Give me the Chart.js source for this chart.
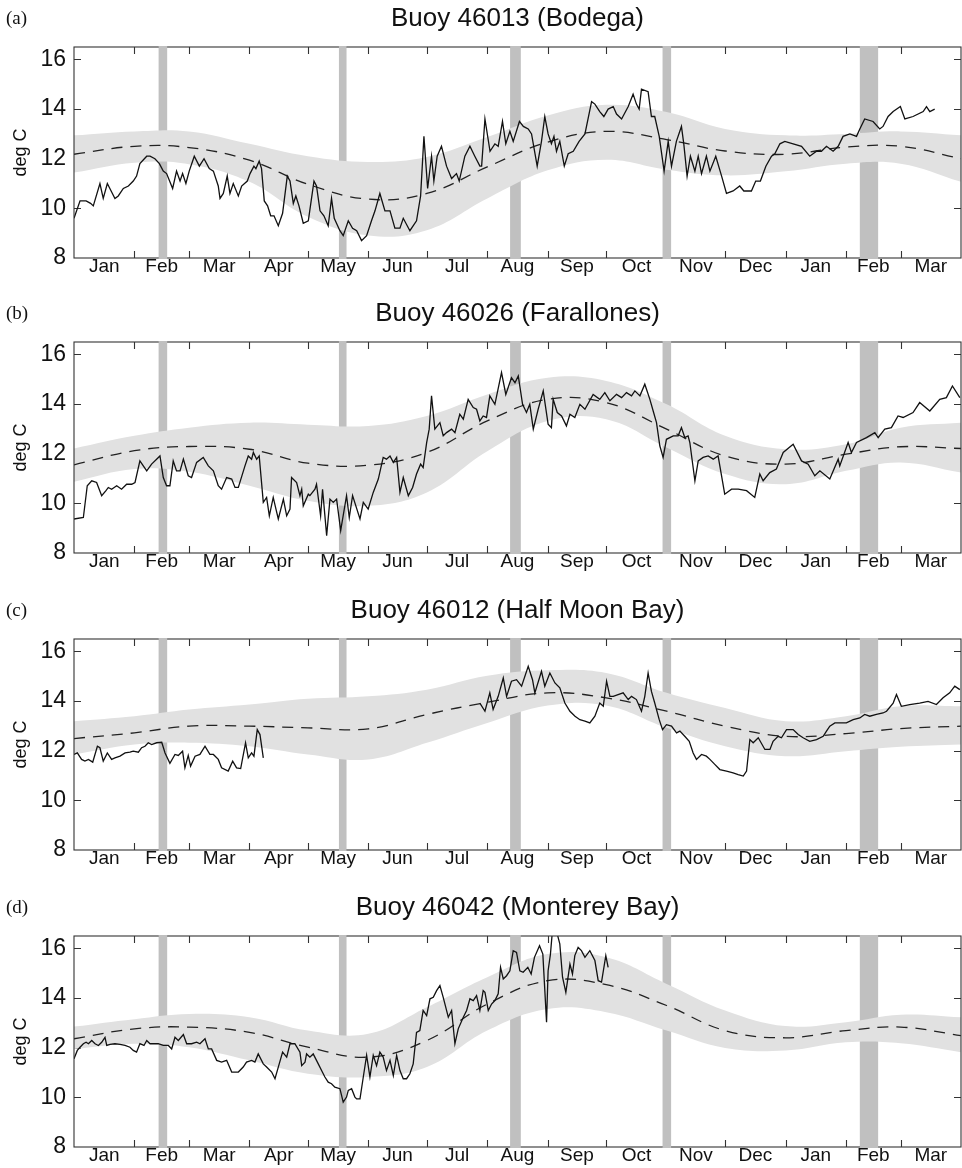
<!DOCTYPE html>
<html>
<head>
<meta charset="utf-8">
<script src="https://cdn.jsdelivr.net/npm/chart.js@4.4.0/dist/chart.umd.min.js"></script>
<style>
  body { margin: 0; background: #fff; overflow: hidden; }
  .panel { position: absolute; left: 0; width: 962px; height: 296px; }
</style>
</head>
<body>
<div class="panel" style="top:0"><canvas id="cA" width="962" height="296"></canvas></div>
<div class="panel" style="top:295px"><canvas id="cB" width="962" height="296"></canvas></div>
<div class="panel" style="top:592px"><canvas id="cC" width="962" height="296"></canvas></div>
<div class="panel" style="top:889px"><canvas id="cD" width="962" height="296"></canvas></div>
<script>
// x axis = days since Jan 1 (first year), through end of March of the next year
const monthLabels = ['Jan','Feb','Mar','Apr','May','Jun','Jul','Aug','Sep','Oct','Nov','Dec','Jan','Feb','Mar'];
const monthStarts = [0,31,59,90,120,151,181,212,243,273,304,334,365,396,424,455];
const yTicks = [10,12,14,16];
// shaded vertical bars (start day, end day)
const grayBars = [[43.4,47.8],[135.9,139.8],[223.7,229.2],[301.9,306.3],[403.1,412.5]];

// climatology (dashed) and its band, sampled at the month starts
const bandDays = [0,31,59,90,120,151,181,212,243,273,304,334,365,396,424,455];

const meanA  = [12.18,12.5,12.45,11.94,10.97,10.37,10.6,11.67,12.67,13.1,12.77,12.31,12.18,12.47,12.5,12.0];
const upperA = [12.94,13.1,13.1,12.6,12.1,11.87,12.07,12.87,13.74,14.17,13.88,13.2,12.94,13.0,13.1,12.94];
const lowerA = [11.44,11.84,11.78,11.07,9.66,8.91,9.12,10.4,11.53,11.96,11.56,11.33,11.49,11.8,11.8,11.07];

const meanB  = [11.55,12.12,12.29,12.18,11.62,11.54,12.05,13.32,14.19,14.06,12.99,11.91,11.58,11.98,12.28,12.21];
const upperB = [12.21,12.72,13.05,13.25,13.17,13.12,13.52,14.39,15.06,14.93,13.99,12.72,12.18,12.38,13.05,13.25];
const lowerB = [10.87,11.38,11.27,10.71,10.1,9.9,10.44,12.1,13.32,13.39,12.25,11.18,10.77,11.31,11.65,11.24];

const meanC  = [12.49,12.72,12.99,12.99,12.92,12.88,13.46,13.95,14.33,14.13,13.59,12.99,12.58,12.69,12.89,12.99];
const upperC = [13.19,13.39,13.66,13.86,14.09,14.19,14.46,15.02,15.24,15.13,14.33,13.72,13.19,13.39,13.79,13.79];
const lowerC = [11.85,12.25,12.32,12.18,11.85,11.65,12.32,13.12,13.82,13.82,12.92,12.18,11.78,11.98,12.16,12.25];

const meanD  = [12.36,12.76,12.83,12.62,12.02,11.62,12.29,13.76,14.7,14.54,13.7,12.69,12.4,12.69,12.83,12.49];
const upperD = [12.85,13.15,13.36,13.23,12.69,12.56,13.63,14.84,15.77,15.64,14.57,13.5,12.87,13.03,13.33,13.23];
const lowerD = [11.95,12.16,12.02,11.49,10.95,10.82,11.22,12.69,13.56,13.43,12.69,11.99,11.89,12.22,12.18,11.82];

// observed buoy temperature [day, deg C]
const obsA = [[0,9.6],[3.1,10.3],[6.2,10.3],[8.5,10.2],[9.9,10.1],[13.3,11.0],[15,10.4],[17.1,11.0],[21,10.4],[22.7,10.5],[25.3,10.8],[27.9,10.9],[30.4,11.1],[32.1,11.3],[33.8,11.8],[37.3,12.1],[39,12.1],[41.5,12.0],[43.8,11.8],[45.8,11.5],[47.5,11.4],[50.6,10.8],[52.6,11.5],[54.4,11.1],[55.7,11.4],[57.4,11.0],[59.1,11.5],[61.7,12.1],[64.3,11.7],[66.7,12.0],[69.4,11.6],[71.5,11.5],[74,10.9],[74.9,10.4],[76.6,10.6],[78.6,11.3],[80,10.6],[81.7,11.0],[84.3,10.5],[86,10.9],[88.9,11.1],[90.3,11.4],[92.3,11.7],[93.3,11.6],[95,11.9],[96.2,11.6],[97.6,10.3],[99.3,10.1],[100.9,9.7],[102.6,9.7],[104.8,9.3],[107,9.8],[109.4,11.3],[110.8,11.1],[112.5,10.2],[113.8,10.5],[115.4,10.1],[117.6,9.4],[120.2,9.5],[123.1,11.1],[124.4,10.9],[126.2,9.9],[128.2,9.7],[130.4,9.3],[132.1,10.4],[133.5,9.6],[136.4,9.1],[138.1,8.9],[140.7,9.5],[142.9,9.2],[145,9.1],[147.5,8.7],[150.1,8.9],[152.6,9.5],[154.4,9.9],[156.9,10.6],[159.5,9.9],[162.1,9.9],[164.6,9.2],[167.2,9.2],[168.9,9.6],[172.3,9.1],[175.7,9.5],[177.8,10.5],[179.5,12.9],[181.4,10.8],[183.4,12.1],[184.6,11.1],[186.3,12.1],[188.5,12.5],[191.1,11.7],[193.7,11.2],[196.2,11.4],[197.6,11.1],[200.5,12.1],[203.1,12.5],[205.6,12.1],[208.2,11.7],
  [209.1,11.7],[210.8,13.6],[213.4,12.3],[215.9,12.6],[217.6,12.5],[219.8,13.5],[221.5,12.6],[223.6,13.1],[225.3,12.7],[228.5,13.5],[230.5,13.3],[233,13.2],[234.7,13.0],[237.6,11.7],[239.8,12.7],[241.5,13.7],[243.2,13.0],[244.9,12.6],[246.2,12.9],[247.5,12.3],[249.2,12.7],[251.5,11.7],[253.5,12.2],[256.1,12.3],[259.1,12.7],[262.1,13.0],[265.5,14.3],[267.2,14.2],[269.7,13.9],[271.8,13.7],[274,14.0],[276.6,14.1],[278.3,13.8],[280.9,13.6],[284.3,14.1],[286.8,14.6],[288.5,14.2],[289.9,14.0],[291.1,14.8],[294.5,14.7],[296.2,13.7],[297.9,13.7],[300.2,12.9],[302.7,11.5],[304.8,12.7],[306.5,11.7],[309,12.7],[311.6,13.3],[312.8,12.6],[314.5,11.3],[316.2,12.1],[318.5,11.5],[320.2,12.1],[321.9,11.4],[324.4,12.1],[326.2,11.5],[329.2,12.1],[332.2,11.3],[334.7,10.6],[338.1,10.7],[341.5,10.9],[343.6,10.7],[347.5,10.7],[349.7,11.1],[352.1,11.1],[354.9,11.7],[357.8,12.1],[359.5,12.2],[362.1,12.6],[364.6,12.7],[368.9,12.6],[373.2,12.5],[377.4,12.1],[380.9,12.3],[383.4,12.3],[386,12.5],[389.4,12.3],[392,12.5],[394.5,12.9],[398,13.0],[401.4,12.9],[403.1,13.2],[405.6,13.6],[409.9,13.5],[413.3,13.2],[415,13.3],[417.6,13.7],[420.2,13.9],[423.9,14.1],[426.2,13.6],[430.4,13.7],[435.6,13.9],[437.3,14.1],[439,13.9],[441.5,14.0]];

const obsB = [[0,9.37],[4.8,9.43],[6.8,10.71],[9.1,10.91],[11.6,10.84],[14.2,10.31],[16.4,10.51],[17.6,10.64],[19.3,10.57],[21.9,10.71],[24.4,10.57],[27,10.77],[29.6,10.77],[31.3,10.84],[33.8,11.71],[37.3,11.31],[39.8,11.58],[44.1,11.91],[45.8,11.04],[47.5,10.71],[49.2,10.71],[50.9,11.71],[52.6,11.31],[54.4,11.31],[56.1,11.78],[58.6,11.11],[60.3,11.04],[62.9,11.65],[66.3,11.85],[68.9,11.51],[71.5,11.31],[74,10.71],[75.7,10.57],[78.3,11.04],[80.9,10.98],[82.6,10.64],[84.3,10.64],[87.7,11.51],[89.4,11.91],[91.1,11.78],[92,12.05],[93.7,11.78],[95,11.91],[97.1,10.04],[98.8,10.24],[100.2,9.5],[102.2,10.24],[103.6,9.77],[104.8,9.37],[107.4,10.17],[109.1,9.5],[110.8,9.77],[111.6,11.04],[114.2,10.84],[115.9,10.31],[116.8,10.57],[117.6,9.9],[120.2,10.37],[121,10.31],[123.6,10.57],[124.4,10.77],[126.5,9.5],[127.5,10.57],[129.6,8.7],[131.3,10.17],[133,10.04],[134.7,10.17],[136.8,8.9],[139.8,10.31],[141.2,9.43],[142.9,10.31],[146.7,9.37],[148.4,10.04],[150.9,9.77],[153.5,10.44],[156.1,10.98],[158.6,11.85],[160.3,11.78],[162.1,11.91],[163.8,11.65],[165.5,11.85],[167.2,10.44],[168.9,11.04],[171.5,10.31],[173.7,10.64],[175.7,11.18],[177.8,11.58],[179.1,11.44],[180.9,12.45],[182.2,12.99],[183.4,14.33],[185.1,12.99],[187.7,13.25],[189.4,12.72],[191.1,12.85],[193.7,12.99],[195.4,12.85],[197.9,13.59],[199.7,13.39],[202.2,14.19],[204.8,13.86],[206.5,13.79],[208.2,13.32],
  [209.9,13.52],[211.6,13.46],[213.3,14.33],[215.9,13.99],[219.3,15.27],[221.5,14.39],[224.4,15.06],[226.2,14.86],[227.9,15.13],[230.1,13.99],[232.1,13.66],[233.8,13.99],[235.6,12.99],[238.1,13.79],[240.7,14.53],[243.2,13.19],[244.9,13.05],[245.8,14.19],[247.9,13.66],[250.1,13.52],[252.6,13.12],[254.4,13.59],[256.9,13.46],[259.5,13.99],[262.1,13.79],[266.3,14.39],[269.7,14.19],[272.3,14.46],[274.9,14.13],[278.3,14.39],[280.9,14.26],[283.4,14.46],[286,14.33],[287.7,14.53],[290.3,14.33],[292.8,14.8],[295.4,14.19],[297.1,13.72],[298.8,13.25],[300.5,12.32],[302.2,11.85],[303.9,12.58],[307.4,12.72],[309.9,12.72],[311.6,13.05],[313.3,12.65],[315,12.72],[315.9,12.45],[318.5,10.91],[320.2,11.71],[322.7,11.85],[325.3,11.91],[327.9,11.78],[330.4,11.91],[333.8,10.37],[337.3,10.57],[340.7,10.57],[345,10.51],[349.2,10.24],[351.8,11.18],[353.5,10.91],[356.9,11.24],[360.3,11.38],[363.8,12.05],[368.9,12.38],[373.2,11.71],[376.6,11.58],[380,11.11],[382.6,11.31],[387.7,10.98],[392,11.78],[392.8,11.51],[397.1,12.45],[398.8,12.05],[401.4,12.45],[406.5,12.65],[410.8,12.85],[412.5,12.65],[415.9,12.99],[419.3,13.05],[422.7,13.52],[425.3,13.46],[430.4,13.66],[433.8,14.06],[439,13.72],[444.1,14.19],[447.5,14.26],[450.6,14.73],[454.4,14.26]];

const obsC = [[0,11.85],[1.7,11.91],[3.9,11.65],[5.6,11.58],[7.4,11.65],[9.6,11.54],[12,12.18],[13.3,12.12],[15,11.58],[17.1,11.91],[19.3,11.65],[21,11.71],[23.6,11.78],[26.2,11.91],[28.7,11.94],[30.4,11.98],[33,11.94],[34.7,12.12],[36.4,12.18],[38.1,12.32],[39.8,12.25],[42.4,12.32],[45,12.34],[46.7,11.91],[49.2,11.49],[51.8,11.85],[53.5,11.81],[55.7,11.98],[56.9,11.31],[58.6,11.81],[59.8,11.38],[62.1,11.78],[64.6,11.85],[67.2,12.18],[69.7,11.85],[71.5,11.85],[74,11.65],[75.7,11.31],[79.1,11.18],[81.4,11.58],[83.4,11.31],[85.5,11.28],[88,12.32],[89.4,11.71],[91.1,11.91],[92.3,11.78],[94,12.85],[95.4,12.65],[97.1,11.71],
  [150,null],
  [208.2,13.92],[210.8,13.59],[213.3,14.33],[215,13.66],[217.6,14.19],[220.2,14.93],[221.9,14.19],[224.4,14.8],[227,14.86],[229.6,14.6],[233,15.4],[235.2,14.86],[236.4,14.33],[239.8,15.2],[241.5,14.6],[244.1,15.13],[246.7,14.73],[249.2,14.53],[251.8,13.92],[254.4,13.59],[257,13.39],[259.5,13.25],[262.1,13.19],[264.6,13.12],[267.2,13.39],[269.7,13.92],[271.5,13.79],[273.2,14.8],[274.9,14.19],[276.6,14.19],[279.1,14.26],[281.7,14.33],[284.3,14.06],[286,14.19],[288.5,14.06],[291.1,13.59],[292.8,14.19],[294.5,15.13],[296.2,14.39],[297.9,13.92],[300.2,13.25],[301.9,12.85],[303.9,13.05],[306.5,12.99],[309.1,12.72],[310.8,12.79],[313.3,12.58],[315.6,12.38],[317.6,11.91],[319.3,11.65],[321.9,11.85],[324.4,11.78],[326.2,11.65],[328.7,11.45],[331.3,11.24],[334.7,11.18],[338.1,11.11],[340.7,11.04],[343.3,10.98],[345,11.18],[346.7,12.45],[348.4,12.32],[351,12.52],[354.4,12.05],[357,12.05],[358.6,12.38],[361.2,12.58],[362.9,12.52],[365.5,12.85],[368.9,12.85],[371.5,12.65],[374,12.52],[377.4,12.38],[380.9,12.45],[384.3,12.58],[386,12.79],[387.7,12.99],[390.3,13.12],[392.8,13.12],[396.2,13.12],[399.7,13.25],[403.1,13.32],[405.6,13.46],[408.2,13.39],[411.6,13.46],[415,13.52],[416.8,13.59],[420.2,13.92],[421.9,14.26],[424.4,13.79],[428.7,13.86],[433.8,13.92],[438.1,13.99],[442.4,13.86],[445.8,14.13],[449.2,14.33],[451.8,14.6],[454.4,14.46]];

const obsD = [[0,11.55],[1.7,11.89],[3.1,12.02],[4.8,12.16],[6.2,12.22],[7.4,12.16],[9.1,12.29],[10.8,12.16],[12.5,12.09],[14.2,12.22],[15.9,12.42],[16.8,12.09],[18.5,12.13],[21,12.16],[23.6,12.13],[26.2,12.09],[28.7,12.02],[30.4,11.89],[32.1,11.82],[33.8,12.16],[35.9,12.09],[37.3,12.29],[39,12.16],[40.7,12.16],[43.2,12.16],[45.8,12.09],[48.4,12.09],[50.1,11.95],[51.8,12.42],[53.5,12.29],[56.1,12.53],[57.8,12.16],[60.3,12.16],[62.9,12.22],[64.6,12.16],[67.2,12.36],[68.9,11.95],[70.6,11.95],[73.2,11.49],[75.7,11.42],[78.3,11.49],[80.9,11.02],[84.3,11.02],[86.8,11.22],[88.5,11.42],[91.1,11.49],[92.8,11.42],[94.5,11.75],[97.1,11.35],[98.8,11.22],[101.4,11.02],[103.1,10.75],[104.8,11.22],[107,11.82],[109.1,11.62],[110.8,12.16],[113.3,12.16],[115.9,11.82],[116.8,11.28],[118.5,11.42],[119.3,11.75],[121,11.62],[122.7,11.75],[125.3,11.35],[127,11.08],[128.7,10.82],[130.4,10.61],[132.1,10.55],[133.8,10.41],[136.4,10.35],[138.1,9.81],[139.8,10.01],[140.7,10.28],[142.4,10.35],[144.1,10.01],[145,9.94],[146.7,9.94],[148.4,10.82],[150.1,11.69],[151.8,10.82],[153.5,11.69],[155.2,11.28],[156.9,11.82],[158.6,11.62],[160.3,11.08],[162.1,11.49],[163.8,10.88],[165.5,11.69],[167.2,11.08],[168.9,10.75],[170.6,10.75],[172.3,10.95],[174,11.35],[175.7,12.62],[177.4,12.69],[179.1,13.5],[180.9,13.29],[182.6,13.97],[184.3,14.03],[186,14.3],[187.7,14.5],[189.4,14.03],[192,13.23],[193.7,13.5],[195.4,12.16],[197.1,12.76],[199.7,13.23],[201.4,13.5],[203.1,13.97],[204.8,13.9],[206.5,14.1],[208.2,13.5],
  [209.9,14.3],[210.8,14.23],[212.5,13.5],[214.2,13.76],[215.9,13.9],[217.6,14.17],[218.8,15.24],[220.2,14.77],[221.9,14.9],[223.6,15.1],[225.3,15.91],[227,15.84],[228.7,15.1],[230.4,15.04],[232.8,15.24],[234.5,14.97],[236.2,15.64],[238.8,16.11],[240.5,15.77],[242.4,13.03],[243.2,15.1],[244.4,15.77],[245.4,16.7],[247.5,16.7],[249.2,16.18],[250.6,14.84],[252.3,14.23],[254.4,15.37],[255.7,14.97],[256.9,15.71],[258.6,16.04],[260.3,15.91],[262.1,15.64],[264.6,15.91],[267.2,15.51],[268.9,14.7],[270.6,14.64],[272.8,15.71],[274,15.24]];

const panels = [
  {id: 'cA', tag: '(a)', title: 'Buoy 46013 (Bodega)', obs: obsA, mean: meanA, upper: upperA, lower: lowerA},
  {id: 'cB', tag: '(b)', title: 'Buoy 46026 (Farallones)', obs: obsB, mean: meanB, upper: upperB, lower: lowerB},
  {id: 'cC', tag: '(c)', title: 'Buoy 46012 (Half Moon Bay)', obs: obsC, mean: meanC, upper: upperC, lower: lowerC},
  {id: 'cD', tag: '(d)', title: 'Buoy 46042 (Monterey Bay)', obs: obsD, mean: meanD, upper: upperD, lower: lowerD}
];

const barColor = '#c0c0c0';
const bandColor = '#e1e1e1';
const frameColor = '#333';
const sans = "'Liberation Sans', Arial, Helvetica, sans-serif";

Chart.defaults.font.family = sans;

// gray bars and inward ticks go under the band; frame and bar tops over it
const framePlugin = {
  id: 'frame',
  beforeDatasetsDraw(chart) {
    const {ctx, chartArea: a, scales: {x, y}} = chart;
    ctx.save();
    ctx.strokeStyle = frameColor;
    ctx.lineWidth = 1.1;
    ctx.beginPath();
    monthStarts.slice(1, -1).forEach(d => {
      const px = Math.round(x.getPixelForValue(d)) + 0.5;
      ctx.moveTo(px, a.top); ctx.lineTo(px, a.top + 7);
      ctx.moveTo(px, a.bottom); ctx.lineTo(px, a.bottom - 7);
    });
    yTicks.forEach(v => {
      const py = Math.round(y.getPixelForValue(v)) + 0.5;
      ctx.moveTo(a.left, py); ctx.lineTo(a.left + 7, py);
      ctx.moveTo(a.right, py); ctx.lineTo(a.right - 7, py);
    });
    ctx.stroke();
    ctx.fillStyle = barColor;
    grayBars.forEach(([s, e]) => {
      const x0 = x.getPixelForValue(s), x1 = x.getPixelForValue(e);
      ctx.fillRect(x0, a.top, x1 - x0, a.bottom - a.top);
    });
    ctx.restore();
  },
  afterDatasetsDraw(chart) {
    const {ctx, chartArea: a, scales: {x}} = chart;
    ctx.save();
    ctx.strokeStyle = frameColor;
    ctx.lineWidth = 1.1;
    ctx.strokeRect(a.left, a.top, a.right - a.left, a.bottom - a.top);
    // bars sit over the frame edges
    ctx.fillStyle = barColor;
    grayBars.forEach(([s, e]) => {
      const x0 = x.getPixelForValue(s), x1 = x.getPixelForValue(e);
      ctx.fillRect(x0, a.top - 1, x1 - x0, 2);
      ctx.fillRect(x0, a.bottom - 1, x1 - x0, 2);
    });
    ctx.restore();
  },
  afterDraw(chart, args, opts) {
    const {ctx, chartArea: a} = chart;
    ctx.save();
    ctx.fillStyle = '#111';
    ctx.textBaseline = 'alphabetic';
    ctx.textAlign = 'center';
    ctx.font = '26px ' + sans;
    ctx.fillText(opts.title, (a.left + a.right) / 2, 26);
    ctx.textAlign = 'left';
    ctx.font = "19px 'Liberation Serif', 'Times New Roman', serif";
    ctx.fillText(opts.tag, 6, 24);
    ctx.restore();
  }
};

function makeChart(p) {
  const band = arr => bandDays.map((d, i) => ({x: d, y: arr[i]}));
  new Chart(document.getElementById(p.id), {
    type: 'line',
    data: {
      datasets: [
        {data: p.obs.map(([d, t]) => ({x: d, y: t})), borderColor: '#111', borderWidth: 1.3,
         pointRadius: 0, tension: 0, spanGaps: false, fill: false},
        {data: band(p.mean), borderColor: '#222', borderWidth: 1.3, borderDash: [11, 8],
         pointRadius: 0, tension: 0.4, fill: false},
        {data: band(p.upper), borderWidth: 0, borderColor: 'rgba(0,0,0,0)',
         pointRadius: 0, tension: 0.4, fill: false},
        {data: band(p.lower), borderWidth: 0, borderColor: 'rgba(0,0,0,0)', backgroundColor: bandColor,
         pointRadius: 0, tension: 0.4, fill: '-1'}
      ]
    },
    options: {
      responsive: false,
      animation: false,
      layout: {padding: {top: 47, right: 1, left: 0, bottom: 0}},
      plugins: {
        legend: {display: false},
        tooltip: {enabled: false},
        frame: {title: p.title, tag: p.tag}
      },
      scales: {
        x: {
          type: 'linear', min: 0, max: 455,
          afterBuildTicks: s => {
            s.ticks = monthStarts.slice(0, -1).map((d, i) => ({value: (d + monthStarts[i + 1]) / 2}));
          },
          afterFit: s => { s.height = 38; },
          grid: {display: false, drawTicks: false},
          border: {display: false},
          ticks: {autoSkip: false, maxRotation: 0, padding: -3, color: '#111',
                  font: {size: 19}, callback: (v, i) => monthLabels[i]}
        },
        y: {
          min: 8, max: 16.5,
          afterBuildTicks: s => { s.ticks = [8].concat(yTicks).map(v => ({value: v})); },
          afterFit: s => { s.width = 74; },
          grid: {display: false, drawTicks: false},
          border: {display: false},
          ticks: {padding: 8, color: '#111', font: {size: 23}},
          title: {display: true, text: 'deg C', color: '#111', font: {size: 18}, padding: {top: 10, bottom: 0}}
        }
      }
    },
    plugins: [framePlugin]
  });
}

panels.forEach(makeChart);
</script>
</body>
</html>
